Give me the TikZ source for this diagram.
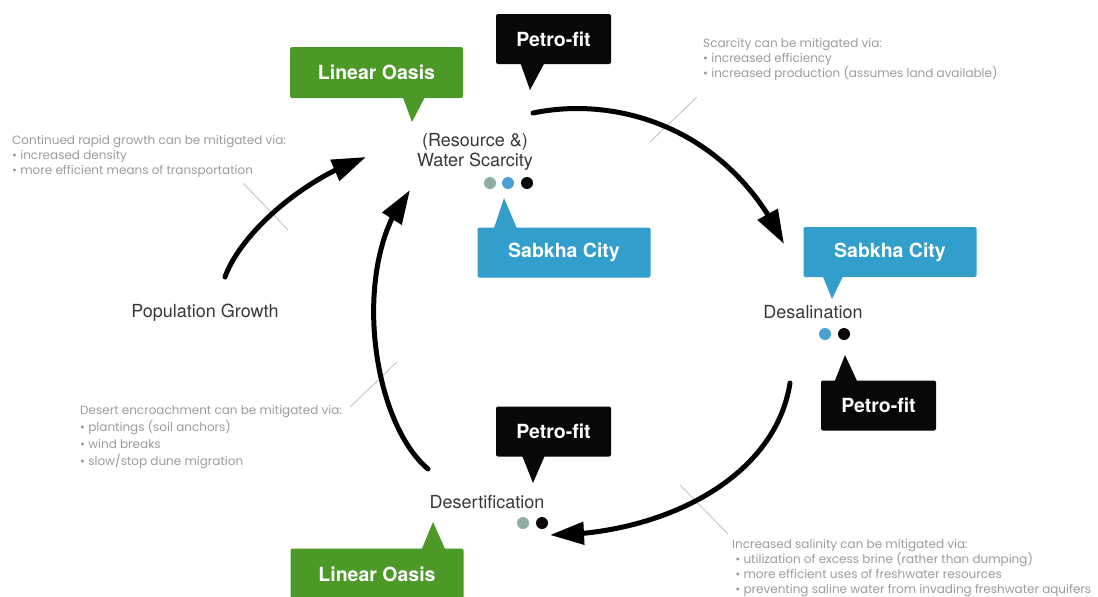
\documentclass[tikz,border=0pt]{standalone}
\usepackage{fontspec}
\setmainfont{TeX Gyre Heros}
\newfontfamily\notefont{Poppins}
\usetikzlibrary{arrows.meta,bending}
\definecolor{oasis}{RGB}{76,153,40}
\definecolor{sabkha}{RGB}{50,158,204}
\definecolor{petro}{RGB}{8,8,8}
\definecolor{notegrey}{RGB}{155,155,155}
\definecolor{tickgrey}{RGB}{200,200,200}
\definecolor{dotgrey}{RGB}{143,174,163}
\definecolor{dotblue}{RGB}{74,160,212}
\begin{document}
\begin{tikzpicture}[x=1pt,y=-1pt,
  tag/.style={inner sep=0pt, rounded corners=2pt, text=white,
    font=\fontsize{19.5}{22}\selectfont\bfseries},
  oasisbox/.style={tag, fill=oasis, minimum width=173pt, minimum height=51pt},
  sabkhabox/.style={tag, fill=sabkha, minimum width=173pt, minimum height=50pt},
  petrobox/.style={tag, fill=petro, minimum width=115pt, minimum height=50pt},
  lbl/.style={inner sep=0pt, align=center, text=black!78,
    font=\fontsize{18}{20}\selectfont},
  note/.style={inner sep=0pt, align=left, anchor=north west, text=notegrey,
    font=\notefont\fontsize{12}{15.3}\selectfont},
  dot/.style={circle, inner sep=0pt, minimum size=12pt},
  cyc/.style={line width=5pt, line cap=round, -{Triangle[length=34pt,width=22pt]}},
  tickline/.style={line width=1pt, tickgrey}]
\useasboundingbox (0,0) rectangle (1098,597);

% ---- call-out boxes ----
\fill[oasis] (402,95) -- (426,95) -- (412,122) -- cycle;
\node[oasisbox] (lo1) at (376.5,72.5) {Linear Oasis};
\fill[petro] (520,62) -- (545,62) -- (530,90) -- cycle;
\node[petrobox] (pf1) at (553.5,39) {Petro-fit};
\fill[sabkha] (493,231) -- (518,231) -- (504,198) -- cycle;
\node[sabkhabox] (sc1) at (564,252.5) {Sabkha City};
\fill[sabkha] (821,272) -- (845,272) -- (832,299) -- cycle;
\node[sabkhabox] (sc2) at (890,252) {Sabkha City};
\fill[petro] (834,383) -- (858,383) -- (845,355) -- cycle;
\node[petrobox] (pf2) at (878.5,405.5) {Petro-fit};
\fill[petro] (521,453) -- (546,453) -- (533,483) -- cycle;
\node[petrobox] (pf3) at (553.5,431.5) {Petro-fit};
\fill[oasis] (421,551) -- (446,551) -- (433,522) -- cycle;
\node[oasisbox] (lo2) at (377,574) {Linear Oasis};

% ---- cycle labels ----
\node[lbl] (ws) at (475,152) {(Resource \&)\\Water Scarcity};
\node[lbl] (pop) at (205,313) {Population Growth};
\node[lbl] (des) at (813,312) {Desalination};
\node[lbl] (dsf) at (487,502) {Desertification};

% ---- dots ----
\node[dot, fill=dotgrey] (w1) at (490,183) {};
\node[dot, fill=dotblue] (w2) at (508,183) {};
\node[dot, fill=petro] (w3) at (527,183) {};
\node[dot, fill=dotblue] (s1) at (825,334) {};
\node[dot, fill=petro] (s2) at (844,334) {};
\node[dot, fill=dotgrey] (f1) at (523,523) {};
\node[dot, fill=petro] (f2) at (542,523) {};

% ---- mitigation notes ----
\node[note] (n1) at (703,38) {Scarcity can be mitigated via:\\
  • increased efficiency\\
  • increased production (assumes land available)};
\node[note] (n2) at (12,135) {Continued rapid growth can be mitigated via:\\
  • increased density\\
  • more efficient means of transportation};
\node[note, font=\notefont\fontsize{12}{17}\selectfont] (n3) at (80,405) {Desert encroachment can be mitigated via:\\
  • plantings (soil anchors)\\
  • wind breaks\\
  • slow/stop dune migration};
\node[note, font=\notefont\fontsize{12}{15}\selectfont] (n4) at (732,539) {Increased salinity can be mitigated via:\\
  \ • utilization of excess brine (rather than dumping)\\
  \ • more efficient uses of freshwater resources\\
  \ • preventing saline water from invading freshwater aquifers\\
  \ • alternative means of water collection};

% ---- tick marks ----
\coordinate (ta1) at (243,183); \coordinate (ta2) at (288,230);
\coordinate (tb1) at (650,142); \coordinate (tb2) at (697,97);
\coordinate (tc1) at (350,407); \coordinate (tc2) at (397,362);
\coordinate (td1) at (680,485); \coordinate (td2) at (728,534);
\draw[tickline] (ta1) -- (ta2);
\draw[tickline] (tb1) -- (tb2);
\draw[tickline] (tc1) -- (tc2);
\draw[tickline] (td1) -- (td2);

% ---- cycle arrows ----
\coordinate (a1) at (225,277); \coordinate (a2) at (366,157);
\coordinate (b1) at (533,113); \coordinate (b2) at (784,244);
\coordinate (c1) at (790,383); \coordinate (c2) at (550,535);
\coordinate (e1) at (428,469); \coordinate (e2) at (410,190);
\draw[cyc] (a1) .. controls (240,235) and (300,180) .. (a2);
\draw[cyc] (b1) .. controls (620,95) and (730,130) .. (b2);
\draw[cyc] (c1) .. controls (775,480) and (660,535) .. (c2);
\draw[cyc] (e1) .. controls (370,420) and (350,260) .. (e2);
\end{tikzpicture}
\end{document}
